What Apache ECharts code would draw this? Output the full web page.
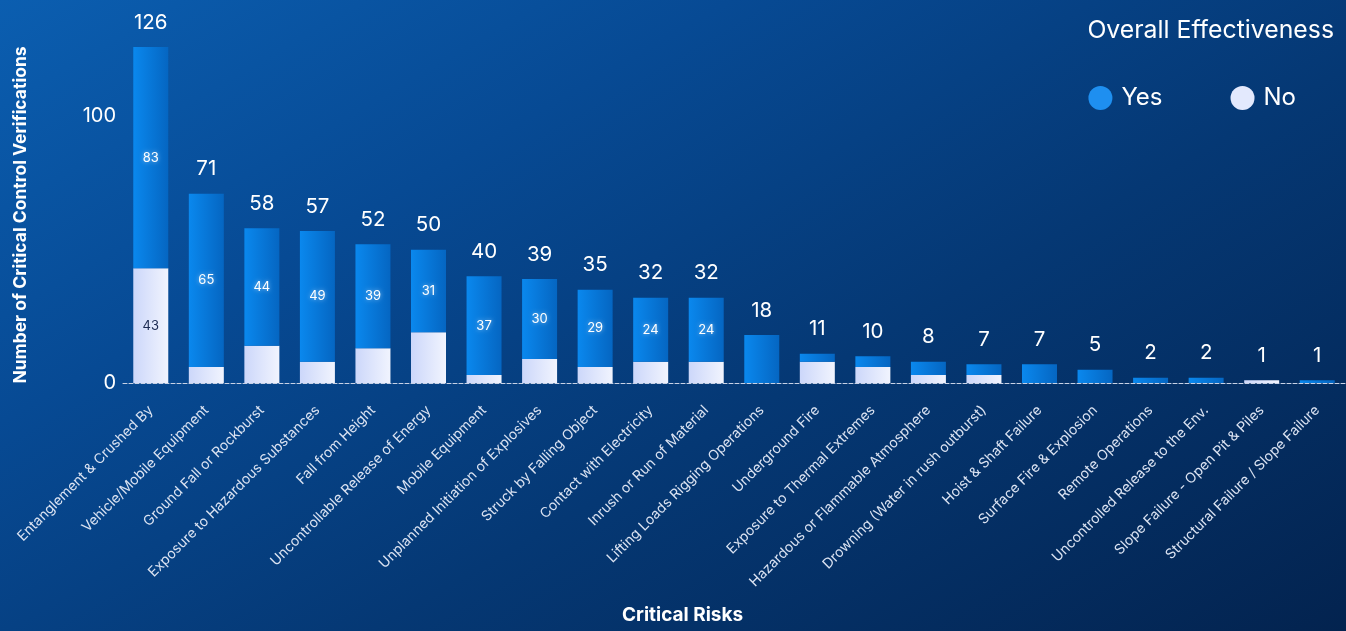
<!DOCTYPE html>
<html>
<head>
<meta charset="utf-8">
<script src="https://cdn.jsdelivr.net/npm/echarts@6/dist/echarts.min.js"></script>
<style>
html,body{margin:0;padding:0;width:1346px;height:631px;overflow:hidden;}
body{background:linear-gradient(150deg,#0b5eb0 0%,#074a94 30%,#053874 60%,#03234f 100%);}
#chart{width:1346px;height:631px;}
</style>
</head>
<body>
<div id="chart"></div>
<script>
const categories = [
  "Entanglement & Crushed By","Vehicle/Mobile Equipment","Ground Fall or Rockburst",
  "Exposure to Hazardous Substances","Fall from Height","Uncontrollable Release of Energy",
  "Mobile Equipment","Unplanned Initiation of Explosives","Struck by Falling Object",
  "Contact with Electricity","Inrush or Run of Material","Lifting Loads Rigging Operations",
  "Underground Fire","Exposure to Thermal Extremes","Hazardous or Flammable Atmosphere",
  "Drowning (Water in rush outburst)","Hoist & Shaft Failure","Surface Fire & Explosion",
  "Remote Operations","Uncontrolled Release to the Env.","Slope Failure - Open Pit & Piles",
  "Structural Failure / Slope Failure"
];
const yesValues = [83,65,44,49,39,31,37,30,29,24,24,18,3,4,5,4,7,5,2,2,0,1];
const noValues  = [43,6,14,8,13,19,3,9,6,8,8,0,8,6,3,3,0,0,0,0,1,0];
const yTicks = [0,100];

const totals = categories.map((c,i)=>yesValues[i]+noValues[i]);
const FONT = 'Inter, "Open Sans", sans-serif';

const chart = echarts.init(document.getElementById('chart'), null, {renderer:'canvas'});
const yesGrad = new echarts.graphic.LinearGradient(0,0,1,0,[{offset:0,color:'#0a88ee'},{offset:1,color:'#0566c2'}]);
const noGrad = new echarts.graphic.LinearGradient(0,0,1,0,[{offset:0,color:'#ccd7fa'},{offset:1,color:'#f1f4fe'}]);

chart.setOption({
  backgroundColor:'transparent',
  textStyle:{fontFamily:FONT},
  title:{
    text:'Overall Effectiveness', right:7, top:13,
    textStyle:{color:'#ffffff',fontSize:24.8,fontWeight:'normal',fontFamily:FONT}
  },
  legend:{
    data:[{name:'Yes',itemStyle:{color:'#1e8ff0'}},{name:'No',itemStyle:{color:'#e3e9fd'}}],
    icon:'circle', right:45, top:81, itemWidth:24, itemHeight:24, itemGap:68,
    textStyle:{color:'#ffffff',fontSize:24,fontFamily:FONT,padding:[0,0,0,4]}
  },
  graphic:[{
    type:'text', left:622, top:606,
    style:{text:'Critical Risks',fill:'#ffffff',font:'bold 19px '+FONT}
  }],
  grid:{left:123,right:1,top:47,bottom:248,containLabel:false},
  xAxis:{
    type:'category', data:categories,
    axisLine:{show:true,lineStyle:{color:'#c8d2e6',type:'dashed',width:1}},
    axisTick:{show:false},
    axisLabel:{rotate:45,color:'#dbe3f2',fontSize:14,fontFamily:FONT,margin:25,interval:0}
  },
  yAxis:{
    type:'value', min:yTicks[0], max:Math.max(...totals), interval:yTicks[1]-yTicks[0],
    name:'Number of Critical Control Verifications', nameLocation:'middle', nameRotate:90, nameGap:93,
    nameTextStyle:{color:'#ffffff',fontSize:17.5,fontWeight:'bold',fontFamily:FONT},
    axisLine:{show:false}, axisTick:{show:false}, splitLine:{show:false},
    axisLabel:{color:'#ffffff',fontSize:20,fontFamily:FONT,margin:7,showMaxLabel:false}
  },
  series:[
    {
      name:'No', type:'bar', stack:'a', barWidth:35, data:noValues,
      itemStyle:{color:noGrad},
      label:{show:true,position:'inside',color:'#1b2a52',fontSize:13,
        formatter:p=>p.value>=20?p.value:''}
    },
    {
      name:'Yes', type:'bar', stack:'a', barWidth:35, data:yesValues,
      itemStyle:{color:yesGrad},
      label:{show:true,position:'inside',color:'#ffffff',fontSize:13,
        textShadowColor:'rgba(255,255,255,0.6)',textShadowBlur:4,
        formatter:p=>p.value>=20?p.value:''}
    },
    {
      name:'Total', type:'bar', stack:'a', barWidth:35, data:totals.map(()=>0),
      itemStyle:{color:'transparent'},
      label:{show:true,position:'top',distance:14,color:'#ffffff',fontSize:20.5,
        formatter:p=>totals[p.dataIndex]}
    }
  ]
});
</script>
</body>
</html>
